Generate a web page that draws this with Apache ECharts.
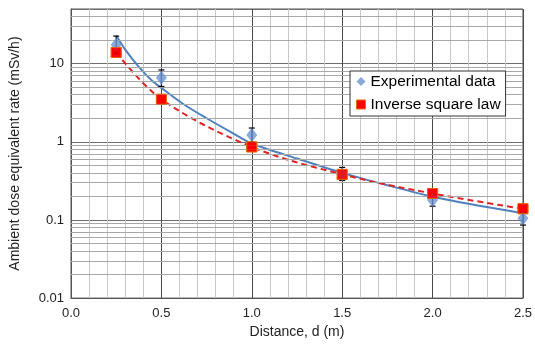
<!DOCTYPE html>
<html><head><meta charset="utf-8">
<script src="https://cdn.jsdelivr.net/npm/echarts@6/dist/echarts.min.js"></script>
<style>html,body{margin:0;padding:0;background:#fff}#c{width:535px;height:344px}</style>
</head><body><div id="c"></div>
<script>
// Data
var distance = [0.25, 0.5, 1.0, 1.5, 2.0, 2.5];
var experimental = [17.4, 6.6, 1.22, 0.384, 0.18, 0.105];
var errLow = [13.5, 5.1, 0.98, 0.32, 0.15, 0.086];
var errHigh = [22.5, 8.3, 1.5, 0.47, 0.21, 0.125];
var inverseSquare = [13.9, 3.5, 0.86, 0.383, 0.218, 0.139];
var fitX = [0.25, 0.3, 0.375, 0.45, 0.5, 0.625, 0.75, 0.875, 1.0, 1.25, 1.5, 1.75, 2.0, 2.25, 2.5];
var fitY = [22.9, 15.1, 9.1, 6.0, 4.9, 3.0, 2.0, 1.37, 0.95, 0.61, 0.40, 0.278, 0.198, 0.153, 0.122];
var xTicks = [0.0, 0.5, 1.0, 1.5, 2.0, 2.5];
var yTicks = [0.01, 0.1, 1, 10];

var FONT = '"Liberation Sans", Arial, sans-serif';
var minorY = [];
[0.01, 0.1, 1, 10].forEach(function (d) {
  for (var k = 2; k <= 9; k++) { var v = +(d * k).toPrecision(3); if (v < 50) minorY.push(v); }
});

var chart = echarts.init(document.getElementById('c'), null, {renderer: 'canvas'});
chart.setOption({
  animation: false,
  backgroundColor: '#fff',
  grid: {left: 71, right: 10, top: 9, bottom: 43, show: true, borderColor: '#555', borderWidth: 1, backgroundColor: '#fff'},
  legend: {
    left: 350, top: 71, orient: 'vertical', z: 100, zlevel: 1,
    backgroundColor: '#fff', borderColor: '#333', borderWidth: 1,
    padding: [2, 5, 3, 6], itemGap: 6, itemWidth: 9, itemHeight: 9,
    textStyle: {fontFamily: FONT, fontSize: 15.5, lineHeight: 17, color: '#000'},
    data: [
      {name: 'Experimental data', icon: 'diamond', itemStyle: {color: '#6a93cf', borderWidth: 0}},
      {name: 'Inverse square law', icon: 'rect', itemStyle: {color: '#ff0000', borderColor: '#e46c0a', borderWidth: 1}, lineStyle: {width: 0, opacity: 0}}
    ]
  },
  xAxis: {
    type: 'value', min: 0, max: 2.5, interval: 0.5,
    name: 'Distance, d (m)', nameLocation: 'middle', nameGap: 23,
    nameTextStyle: {fontFamily: FONT, fontSize: 14, color: '#222'},
    axisLine: {show: true, lineStyle: {color: '#555'}},
    axisTick: {show: false},
    axisLabel: {fontFamily: FONT, fontSize: 13, color: '#222', margin: 9,
      formatter: function (v) { return xTicks.indexOf(+v.toFixed(1)) >= 0 ? v.toFixed(1) : ''; }},
    splitLine: {show: true, lineStyle: {color: '#4a4a4a', width: 1}},
    minorTick: {show: false, splitNumber: 5},
    minorSplitLine: {show: true, lineStyle: {color: '#c8c8c8', width: 1}}
  },
  yAxis: {
    type: 'log', logBase: 10, min: 0.01, max: 50,
    name: 'Ambient dose equivalent rate (mSv/h)', nameLocation: 'middle', nameGap: 49,
    nameTextStyle: {fontFamily: FONT, fontSize: 14, color: '#222'},
    axisLine: {show: true, lineStyle: {color: '#555'}},
    axisTick: {show: false},
    axisLabel: {fontFamily: FONT, fontSize: 13, color: '#222', margin: 7, showMaxLabel: false,
      formatter: function (v) {
        for (var i = 0; i < yTicks.length; i++) { if (Math.abs(v - yTicks[i]) / yTicks[i] < 1e-6) return String(yTicks[i]); }
        return '';
      }},
    splitLine: {show: true, lineStyle: {color: '#6e6e6e', width: 1}}
  },
  series: [
    {
      name: 'minor', type: 'line', data: [], silent: true, z: 1,
      markLine: {silent: true, symbol: ['none', 'none'], label: {show: false},
        lineStyle: {color: '#a8a8a8', type: 'solid', width: 1},
        animation: false,
        data: minorY.map(function (v) { return {yAxis: v}; })}
    },
    {
      name: 'fit', type: 'line', smooth: 0.25, showSymbol: false, z: 3,
      lineStyle: {color: '#4f81bd', width: 2},
      data: fitX.map(function (x, i) { return [x, fitY[i]]; })
    },
    {
      name: 'Inverse square law', type: 'line', smooth: 0.35, z: 4,
      symbol: 'rect', symbolSize: 10, showSymbol: true,
      lineStyle: {color: '#e02424', width: 2, type: [6, 4]},
      itemStyle: {color: '#ff0000', borderColor: '#e46c0a', borderWidth: 1},
      data: distance.map(function (x, i) { return [x, inverseSquare[i]]; })
    },
    {
      name: 'errors', type: 'custom', z: 5, silent: true,
      data: distance.map(function (x, i) { return [x, errLow[i], errHigh[i]]; }),
      renderItem: function (params, api) {
        var lo = api.coord([api.value(0), api.value(1)]);
        var hi = api.coord([api.value(0), api.value(2)]);
        var w = 3, st = {stroke: '#000', lineWidth: 1.2};
        return {type: 'group', children: [
          {type: 'line', shape: {x1: hi[0], y1: hi[1], x2: lo[0], y2: lo[1]}, style: st},
          {type: 'line', shape: {x1: hi[0] - w, y1: hi[1], x2: hi[0] + w, y2: hi[1]}, style: st},
          {type: 'line', shape: {x1: lo[0] - w, y1: lo[1], x2: lo[0] + w, y2: lo[1]}, style: st}
        ]};
      }
    },
    {
      name: 'Experimental data', type: 'scatter', z: 6,
      symbol: 'diamond', symbolSize: [11, 14],
      itemStyle: {color: '#6a93cf'},
      data: distance.map(function (x, i) { return [x, experimental[i]]; })
    },
    {
      name: 'squaresTop', type: 'scatter', z: 7, silent: true,
      symbol: 'rect', symbolSize: 10,
      itemStyle: {color: '#ff0000', borderColor: '#e46c0a', borderWidth: 1},
      data: distance.map(function (x, i) { return [x, inverseSquare[i]]; })
    }
  ]
});
</script>
</body></html>
